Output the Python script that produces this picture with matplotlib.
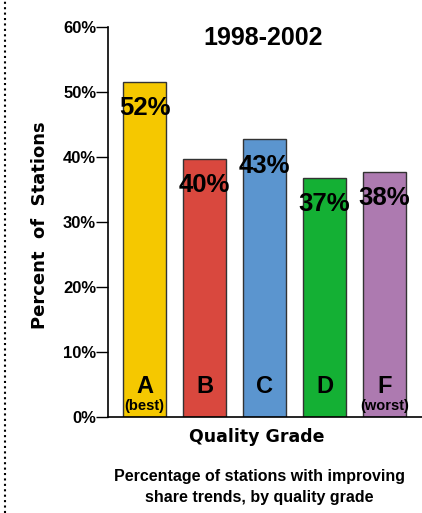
import matplotlib
matplotlib.use('Agg')
import matplotlib.pyplot as plt
from matplotlib.lines import Line2D

# data
grades = ['A', 'B', 'C', 'D', 'F']
notes = ['(best)', '', '', '', '(worst)']
pct = [51.6, 39.7, 42.7, 36.8, 37.7]
colors = ['#F5C800', '#D9483E', '#5B95CF', '#14B034', '#AD7AB0']
yticks = [0, 10, 20, 30, 40, 50, 60]

narrow = dict(family=['Liberation Sans', 'DejaVu Sans'], fontstretch='condensed',
              fontweight='bold')
wide = dict(family=['DejaVu Sans'], fontweight='bold')

fig = plt.figure(figsize=(4.22, 5.13), dpi=100)
ax = fig.add_axes([108/422, 1-417/513, 314/422, 390/513])

x = list(range(len(grades)))
ax.bar(x, pct, width=0.72, color=colors, edgecolor='#333333', linewidth=1)
ax.set_xlim(-0.608, 314/60 - 0.608)
ax.set_ylim(0, 60)

for i in x:
    ax.text(i, pct[i] - 2.2, '%d%%' % round(pct[i]), ha='center', va='top',
            fontsize=18.5, **narrow)
    ax.text(i, 2.9, grades[i], ha='center', va='bottom', fontsize=17, **narrow)
    if notes[i]:
        ax.text(i, 0.6, notes[i], ha='center', va='bottom', fontsize=10.5, **narrow)

ax.set_yticks(yticks)
ax.set_yticklabels(['%d%%' % v for v in yticks], fontsize=12, **narrow)
ax.tick_params(axis='y', length=8.5, width=1, pad=0)
ax.tick_params(axis='x', length=0, labelbottom=False)
ax.spines['top'].set_visible(False)
ax.spines['right'].set_visible(False)
for s in ['left', 'bottom']:
    ax.spines[s].set_linewidth(1.2)

fig.text(263/422, 1-38/513, '1998-2002', ha='center', va='center',
         fontsize=18, fontweight='bold', fontstretch='normal',
         family=['Liberation Sans', 'DejaVu Sans'])
fig.text(40/422, 1-225/513, 'Percent  of  Stations', rotation=90, ha='center',
         va='center', fontsize=13, **wide)
fig.text(257/422, 1-437/513, 'Quality Grade', ha='center', va='center',
         fontsize=12.5, **wide)
fig.text(259/422, 1-487/513, 'Percentage of stations with improving\nshare trends, by quality grade',
         ha='center', va='center', fontsize=11.5, linespacing=1.45, **narrow)

# dotted border on the left
fig.add_artist(Line2D([4.5/422, 4.5/422], [0, 1], transform=fig.transFigure,
                      color='black', linewidth=1.5, linestyle=(0, (1, 1.6))))

fig.savefig('out.png', dpi=100)
